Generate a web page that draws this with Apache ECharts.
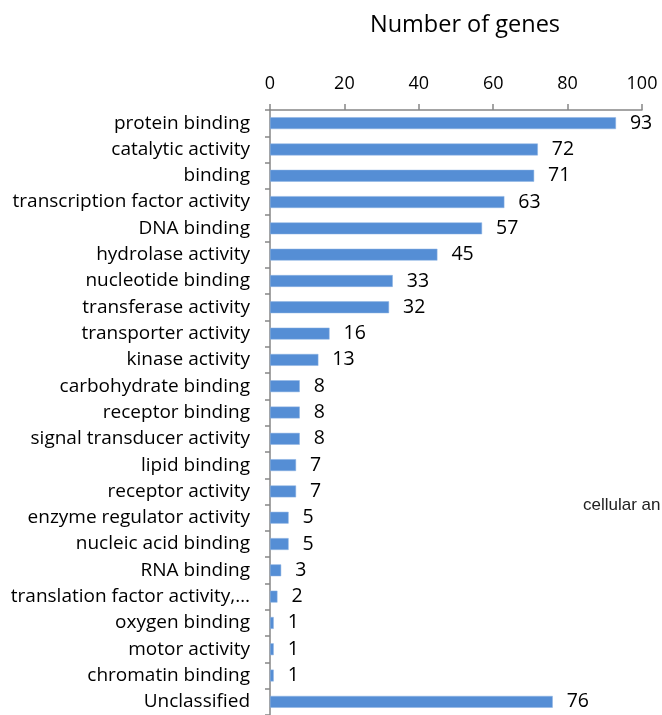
<!DOCTYPE html>
<html>
<head>
<meta charset="utf-8">
<script src="https://cdn.jsdelivr.net/npm/echarts@6/dist/echarts.min.js"></script>
<style>
  html, body { margin: 0; padding: 0; background: #fff; }
  #chart { width: 662px; height: 715px; }
</style>
</head>
<body>
<div id="chart"></div>
<script>
// Molecular function categories, top to bottom
const categories = [
  'protein binding', 'catalytic activity', 'binding', 'transcription factor activity',
  'DNA binding', 'hydrolase activity', 'nucleotide binding', 'transferase activity',
  'transporter activity', 'kinase activity', 'carbohydrate binding', 'receptor binding',
  'signal transducer activity', 'lipid binding', 'receptor activity',
  'enzyme regulator activity', 'nucleic acid binding', 'RNA binding',
  'translation factor activity,…', 'oxygen binding', 'motor activity',
  'chromatin binding', 'Unclassified'
];
// Gene counts per category
const geneCounts = [93, 72, 71, 63, 57, 45, 33, 32, 16, 13, 8, 8, 8, 7, 7, 5, 5, 3, 2, 1, 1, 1, 76];
const axisTicks = [0, 20, 40, 60, 80, 100];

const fontFam = '"Open Sans", sans-serif';
const chart = echarts.init(document.getElementById('chart'));
chart.setOption({
  animation: false,
  title: {
    text: 'Number of genes',
    left: 460, top: 8, textAlign: 'center',
    textStyle: { fontFamily: fontFam, fontSize: 23.5, fontWeight: 'normal', color: '#000' }
  },
  graphic: [{
    type: 'text', left: 583, top: 497,
    style: { text: 'cellular an', fontFamily: '"Liberation Sans", Arial, sans-serif', fontSize: 17, fill: '#222' }
  }],
  grid: { left: 270, right: 20, top: 110, bottom: -1, containLabel: false },
  xAxis: {
    type: 'value', position: 'top',
    min: axisTicks[0], max: axisTicks[axisTicks.length - 1], interval: 20,
    axisLine: { show: true, lineStyle: { color: '#868686', width: 1.5 } },
    axisTick: { show: true, length: 6, lineStyle: { color: '#868686', width: 1.5 } },
    splitLine: { show: false },
    axisLabel: { margin: 17, fontFamily: fontFam, fontSize: 18, color: '#000' }
  },
  yAxis: {
    type: 'category', inverse: true, data: categories,
    axisLine: { show: true, lineStyle: { color: '#868686', width: 1.5 } },
    axisTick: { show: true, length: 5, lineStyle: { color: '#868686', width: 1.5 } },
    axisLabel: { margin: 20, fontFamily: fontFam, fontSize: 19, color: '#000' }
  },
  series: [{
    type: 'bar', data: geneCounts, barWidth: '45%',
    itemStyle: { color: '#558ED5', borderColor: '#8DB3E2', borderWidth: 0.5 },
    label: {
      show: true, position: 'right', distance: 14,
      fontFamily: fontFam, fontSize: 19.5, color: '#000'
    }
  }]
});
</script>
</body>
</html>
